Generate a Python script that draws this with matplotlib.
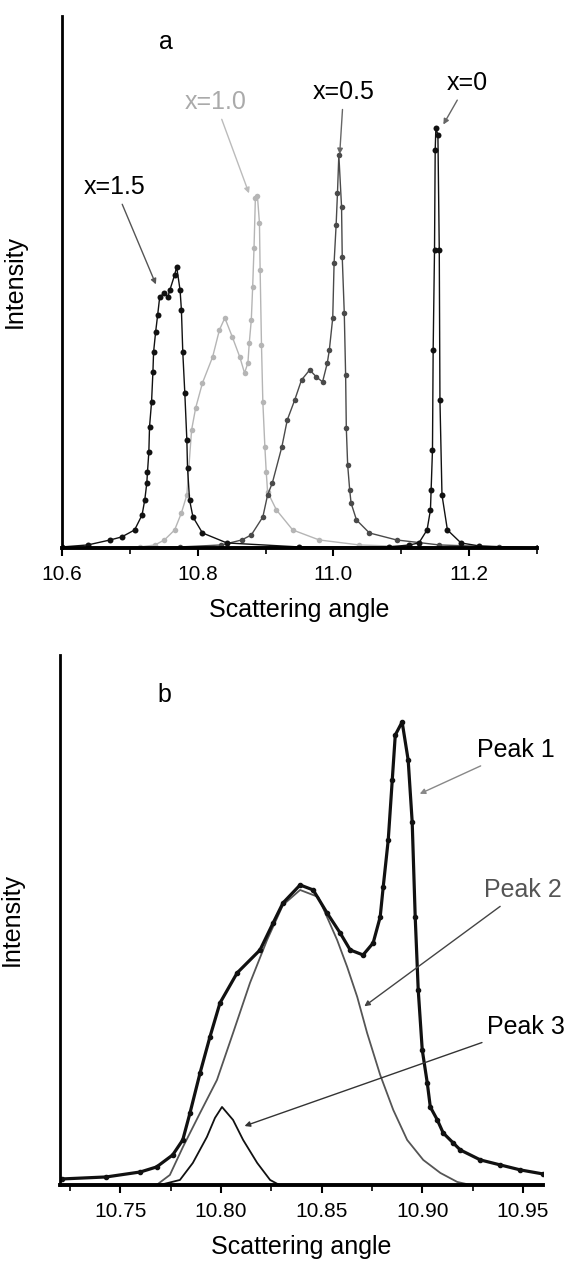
import matplotlib
matplotlib.use("Agg")
import matplotlib.pyplot as plt

plt.rcParams['font.family'] = ['Liberation Sans', 'DejaVu Sans']

# ---- panel a: diffraction peaks for different x (angle, intensity a.u.) ----
ang_15 = [10.600, 10.638, 10.671, 10.688, 10.707, 10.718, 10.722, 10.725, 10.726, 10.728,
          10.729, 10.732, 10.734, 10.735, 10.738, 10.741, 10.744, 10.751, 10.756, 10.759,
          10.766, 10.769, 10.774, 10.776, 10.778, 10.781, 10.784, 10.785, 10.788, 10.793,
          10.807, 10.843, 10.950, 11.300]
int_15 = [1, 3, 8, 11, 18, 33, 48, 65, 76, 96,
          121, 146, 176, 196, 216, 233, 251, 255, 251, 258,
          273, 281, 258, 238, 196, 155, 108, 80, 48, 31,
          15, 5, 1, 0]

ang_10 = [10.600, 10.715, 10.737, 10.751, 10.766, 10.776, 10.784, 10.791, 10.797, 10.807,
          10.822, 10.832, 10.840, 10.851, 10.862, 10.869, 10.874, 10.876, 10.879, 10.881,
          10.883, 10.885, 10.888, 10.891, 10.892, 10.894, 10.896, 10.899, 10.901, 10.903,
          10.916, 10.940, 10.979, 11.038, 11.126, 11.300]
int_10 = [0, 1, 3, 8, 18, 35, 53, 118, 140, 165,
          191, 218, 230, 211, 191, 175, 185, 205, 228, 261,
          300, 350, 352, 325, 278, 203, 146, 101, 76, 56,
          38, 18, 8, 3, 1, 0]

ang_05 = [10.600, 10.774, 10.835, 10.865, 10.879, 10.896, 10.903, 10.910, 10.924, 10.932,
          10.943, 10.953, 10.965, 10.975, 10.984, 10.991, 10.994, 10.999, 11.001, 11.004,
          11.006, 11.008, 11.012, 11.013, 11.016, 11.018, 11.019, 11.021, 11.024, 11.026,
          11.034, 11.053, 11.093, 11.156, 11.244, 11.300]
int_05 = [0, 1, 3, 8, 13, 31, 53, 65, 101, 128,
          148, 168, 178, 171, 166, 185, 198, 230, 285, 323,
          355, 393, 341, 291, 235, 173, 120, 83, 58, 45,
          28, 15, 8, 3, 1, 0]

ang_00 = [10.600, 11.082, 11.112, 11.126, 11.138, 11.143, 11.144, 11.146, 11.147, 11.149,
          11.150, 11.151, 11.154, 11.156, 11.157, 11.160, 11.168, 11.188, 11.215, 11.300]
int_00 = [0, 1, 3, 5, 18, 38, 58, 98, 198, 298,
          398, 420, 413, 298, 148, 53, 18, 5, 2, 0]

# ---- panel b: measured profile and fitted components ----
ang_meas = [10.721, 10.743, 10.760, 10.768, 10.776, 10.781, 10.7846, 10.7896, 10.7945, 10.7995,
            10.808, 10.8194, 10.8259, 10.8308, 10.8393, 10.8458, 10.8527, 10.8592, 10.8642, 10.8706,
            10.8756, 10.8791, 10.8806, 10.8831, 10.8851, 10.8866, 10.8900, 10.8930, 10.8950, 10.8965,
            10.8980, 10.9000, 10.9025, 10.9040, 10.9075, 10.9104, 10.9154, 10.9189, 10.9289, 10.9388,
            10.9488, 10.960]
int_meas = [6, 8, 13, 18, 30, 45, 72, 112, 148, 182,
            212, 235, 262, 282, 300, 295, 272, 252, 235, 230,
            242, 268, 298, 345, 405, 450, 463, 425, 363, 268,
            195, 135, 102, 78, 65, 52, 42, 35, 25, 20,
            15, 11]

ang_p2 = [10.768, 10.7746, 10.7811, 10.7896, 10.798, 10.806, 10.8144, 10.8229, 10.8308, 10.8393,
          10.8483, 10.8577, 10.8627, 10.8677, 10.8726, 10.8791, 10.8856, 10.8925, 10.9005, 10.909,
          10.9174, 10.924]
int_p2 = [0, 10, 38, 72, 105, 152, 202, 245, 280, 295,
          288, 245, 218, 188, 152, 110, 75, 45, 25, 12,
          3, 0]

ang_p3 = [10.7697, 10.7796, 10.786, 10.793, 10.797, 10.8005, 10.806, 10.811, 10.818, 10.8244, 10.829]
int_p3 = [0, 5, 22, 48, 67, 78, 65, 45, 22, 5, 0]

fig = plt.figure(figsize=(5.74, 12.74), dpi=100)
axa = fig.add_axes([0.108, 0.5699, 0.8275, 0.4176])
axb = fig.add_axes([0.1045, 0.0699, 0.8415, 0.416])

for ax in (axa, axb):
    ax.spines['top'].set_visible(False)
    ax.spines['right'].set_visible(False)
    ax.spines['left'].set_linewidth(2)
    ax.spines['bottom'].set_linewidth(2.8)
    ax.set_yticks([])
    ax.tick_params(axis='x', which='major', direction='out', length=6, width=1.5,
                   labelsize=15, pad=6)
    ax.tick_params(axis='x', which='minor', direction='out', length=4, width=1.2)

# panel a
axa.plot(ang_10, int_10, '-o', color='#b5b5b5', lw=1.0, ms=4, mec='none')
axa.plot(ang_05, int_05, '-o', color='#4a4a4a', lw=1.0, ms=4, mec='none')
axa.plot(ang_15, int_15, '-o', color='#111111', lw=1.0, ms=4.3, mec='none')
axa.plot(ang_00, int_00, '-o', color='#111111', lw=1.0, ms=4.3, mec='none')
axa.set_xlim(10.6, 11.3)
axa.set_ylim(0, 532)
axa.set_xticks([10.6, 10.8, 11.0, 11.2])
axa.set_xticklabels(['10.6', '10.8', '11.0', '11.2'])
axa.set_xticks([10.7, 10.9, 11.1, 11.3], minor=True)
axa.set_xlabel('Scattering angle', fontsize=18, labelpad=10)
axa.set_ylabel('Intensity', fontsize=18)
axa.yaxis.set_label_coords(-0.075, 0.5)

axa.text(10.753, 506, 'a', fontsize=18, ha='center', va='center')
arr = dict(arrowstyle='-|>', lw=1.0, mutation_scale=8)
axa.annotate('x=1.5', xy=(10.740, 261), xytext=(10.678, 361), fontsize=18,
             ha='center', va='center', arrowprops=dict(arr, color='#555555'))
axa.annotate('x=1.0', xy=(10.877, 352), xytext=(10.826, 446), fontsize=18, color='#aaaaaa',
             ha='center', va='center', arrowprops=dict(arr, color='#bbbbbb'))
axa.annotate('x=0.5', xy=(11.009, 391), xytext=(11.015, 456), fontsize=18,
             ha='center', va='center', arrowprops=dict(arr, color='#666666'))
axa.annotate('x=0', xy=(11.160, 421), xytext=(11.197, 465), fontsize=18,
             ha='center', va='center', arrowprops=dict(arr, color='#666666'))

# panel b
axb.plot(ang_p2, int_p2, '-', color='#555555', lw=1.3)
axb.plot(ang_p3, int_p3, '-', color='#111111', lw=1.3)
axb.plot(ang_meas, int_meas, '-o', color='#111111', lw=2.3, ms=3)
axb.set_xlim(10.72, 10.96)
axb.set_ylim(0, 530)
axb.set_xticks([10.75, 10.80, 10.85, 10.90, 10.95])
axb.set_xticklabels(['10.75', '10.80', '10.85', '10.90', '10.95'])
axb.set_xticks([10.725, 10.775, 10.825, 10.875, 10.925], minor=True)
axb.set_xlabel('Scattering angle', fontsize=18, labelpad=10)
axb.set_ylabel('Intensity', fontsize=18)
axb.yaxis.set_label_coords(-0.075, 0.5)

axb.text(10.7721, 490, 'b', fontsize=18, ha='center', va='center')
axb.annotate('Peak 1', xy=(10.8975, 390), xytext=(10.9463, 435), fontsize=18,
             ha='center', va='center', arrowprops=dict(arr, color='#888888'))
axb.annotate('Peak 2', xy=(10.8701, 177), xytext=(10.9498, 295), fontsize=18, color='#555555',
             ha='center', va='center', arrowprops=dict(arr, color='#444444'))
axb.annotate('Peak 3', xy=(10.8104, 58), xytext=(10.9517, 158), fontsize=18,
             ha='center', va='center', arrowprops=dict(arr, color='#333333'))

plt.savefig('out.png', dpi=100)
